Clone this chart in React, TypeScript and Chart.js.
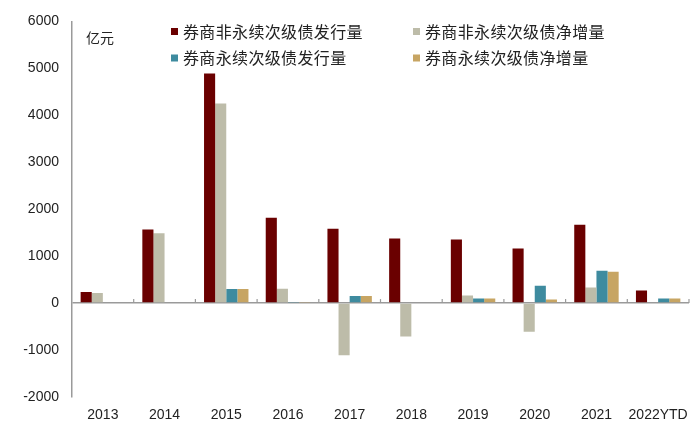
import React, { useEffect, useRef } from "react";
import { Chart, registerables } from "chart.js";

Chart.register(...registerables);

const categories = ["2013", "2014", "2015", "2016", "2017", "2018", "2019", "2020", "2021", "2022YTD"];
const nonPerpIssue = [234, 1567, 4890, 1816, 1582, 1376, 1355, 1163, 1667, 270];
const nonPerpNet = [213, 1489, 4252, 305, -1113, -709, 163, -610, 333, 0];
const perpIssue = [0, 0, 298, 21, 149, 0, 99, 369, 688, 99];
const perpNet = [0, 0, 298, 21, 149, 0, 99, 78, 667, 99];
const seriesNames = ["券商非永续次级债发行量", "券商非永续次级债净增量", "券商永续次级债发行量", "券商永续次级债净增量"];
const seriesColors = ["#6A0000", "#BDBCA9", "#3E8B9F", "#C7A563"];
const unitLabel = "亿元";

const CJK = '"Noto Sans CJK SC", "Noto Sans", sans-serif';
const NUM = '"Liberation Sans", Arial, sans-serif';

const overlayPlugin = {
  id: "overlay",
  afterDatasetsDraw(chart: any) {
    const ctx = chart.ctx;
    const xs = chart.scales.x;
    const ys = chart.scales.y;
    const area = chart.chartArea;
    const y0 = ys.getPixelForValue(0);
    ctx.save();
    ctx.strokeStyle = "#9A9A9A";
    ctx.lineWidth = 1.2;
    const n = categories.length;
    for (let i = 1; i <= n; i++) {
      const x = i < n ? (xs.getPixelForTick(i - 1) + xs.getPixelForTick(i)) / 2 : area.right;
      ctx.beginPath();
      ctx.moveTo(x, y0);
      ctx.lineTo(x, y0 - 4);
      ctx.stroke();
    }
    ctx.fillStyle = "#222";
    ctx.font = `14px ${CJK}`;
    ctx.textBaseline = "middle";
    ctx.textAlign = "left";
    ctx.fillText(unitLabel, 86, 38);
    const pos = [
      [171, 31.5],
      [413, 31.5],
      [171, 58],
      [413, 58],
    ];
    ctx.font = `16px ${CJK}`;
    try {
      (ctx as any).letterSpacing = "0.35px";
    } catch (e) {}
    seriesNames.forEach((name, i) => {
      const [lx, ly] = pos[i];
      ctx.fillStyle = seriesColors[i];
      ctx.fillRect(lx, ly - 3.5, 7, 7);
      ctx.fillStyle = "#222";
      ctx.fillText(name, lx + 12, ly);
    });
    ctx.restore();
  },
};

export default function App() {
  const ref = useRef<HTMLCanvasElement | null>(null);
  useEffect(() => {
    document.body.style.margin = "0";
    if (!ref.current) return;
    const data = [nonPerpIssue, nonPerpNet, perpIssue, perpNet];
    const chart = new Chart(ref.current, {
      type: "bar",
      data: {
        labels: categories,
        datasets: data.map((d, i) => ({
          label: seriesNames[i],
          data: d,
          backgroundColor: seriesColors[i],
          borderWidth: 0,
          categoryPercentage: 0.72,
          barPercentage: 1,
        })),
      },
      options: {
        animation: false,
        responsive: false,
        devicePixelRatio: 1,
        layout: { padding: { left: 0, right: 11, top: 21, bottom: 0 } },
        plugins: {
          legend: { display: false },
          tooltip: { enabled: false },
        },
        scales: {
          x: {
            grid: { display: false, drawTicks: false },
            border: { display: false },
            ticks: { padding: 10, color: "#222", font: { family: NUM, size: 14 }, maxRotation: 0, autoSkip: false },
            afterFit(s: any) {
              s.height = 36;
            },
          },
          y: {
            min: -2000,
            max: 6000,
            ticks: {
              stepSize: 1000,
              padding: 13,
              color: "#222",
              font: { family: NUM, size: 14 },
              callback: (v: any) => String(v),
            },
            grid: {
              drawTicks: false,
              color: (c: any) => (c.tick && c.tick.value === 0 ? "#9A9A9A" : "rgba(0,0,0,0)"),
              lineWidth: 1.5,
            },
            border: { display: true, color: "#9A9A9A", width: 1.5 },
            afterFit(s: any) {
              s.width = 72;
            },
          },
        },
      },
      plugins: [overlayPlugin],
    });
    return () => chart.destroy();
  }, []);
  return <canvas ref={ref} width={700} height={433} style={{ display: "block" }} />;
}
